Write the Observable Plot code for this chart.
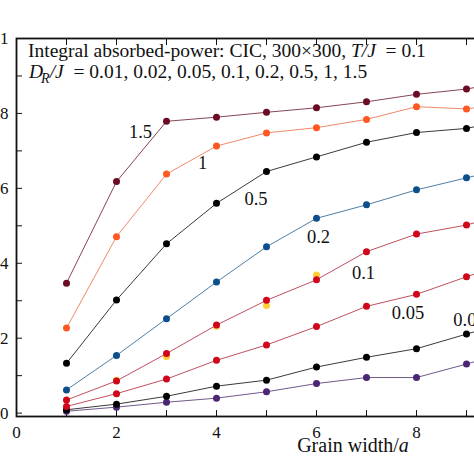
<!DOCTYPE html>
<html>
<head>
<meta charset="utf-8">
<script src="https://cdn.jsdelivr.net/npm/d3@7"></script>
<script src="https://cdn.jsdelivr.net/npm/@observablehq/plot@0.6"></script>
<style>
  body { margin: 0; overflow: hidden; background: #fff; }
  #chart { margin-left: -44px; width: 580px; }
</style>
</head>
<body>
<div id="chart"></div>
<script>
// grain widths (x) and the D_R/J values of each curve
const grainWidth = [1, 2, 3, 4, 5, 6, 7, 8, 9, 10]
const drValues = ['0.01', '0.02', '0.05', '0.1', '0.2', '0.5', '1', '1.5']

// integral absorbed power, one list per D_R/J
const p001 = [0.005, 0.016, 0.029, 0.040, 0.057, 0.079, 0.095, 0.095, 0.131, 0.17]
const p002 = [0.009, 0.024, 0.045, 0.072, 0.088, 0.123, 0.149, 0.172, 0.211, 0.25]
const p005 = [0.018, 0.052, 0.091, 0.141, 0.182, 0.231, 0.285, 0.317, 0.364, 0.408]
const p01 = [0.035, 0.086, 0.159, 0.235, 0.301, 0.356, 0.431, 0.478, 0.502, 0.54]
const p02 = [0.062, 0.154, 0.252, 0.350, 0.444, 0.520, 0.556, 0.596, 0.628, 0.66]
const p05 = [0.133, 0.302, 0.452, 0.560, 0.645, 0.684, 0.723, 0.749, 0.760, 0.787]
const p1 = [0.227, 0.471, 0.638, 0.713, 0.748, 0.762, 0.784, 0.818, 0.812, 0.83]
const p15 = [0.347, 0.618, 0.779, 0.790, 0.803, 0.815, 0.831, 0.851, 0.865, 0.89]
const curves = [p001, p002, p005, p01, p02, p05, p1, p15]

// extra yellow points peeking out behind the 0.1 curve
const yellowX = [2, 3, 4, 5, 6]
const yellowY = [0.088, 0.151, 0.232, 0.287, 0.369]

const lineColors = ['#6f5a8c', '#3a3a3a', '#c0505e', '#c0505e', '#4f7fa6', '#3a3a3a', '#ee8a68', '#864656']
const dotColors = ['#4a2673', '#000000', '#d0061b', '#d0061b', '#0d4f8c', '#000000', '#ff5722', '#6b0b24']

// curve labels
const labelText = ['1.5', '1', '0.5', '0.2', '0.1', '0.05', '0.02']
const labelX = [2.48, 3.72, 4.79, 6.04, 6.94, 7.83, 9.06]
const labelY = [0.735, 0.652, 0.556, 0.455, 0.359, 0.25, 0.2325]

const xMinor = d3.range(0, 11, 1)
const xMajor = [0, 2, 4, 6, 8, 10]
const yMinor = [0, 0.1, 0.2, 0.3, 0.4, 0.5, 0.6, 0.7, 0.8, 0.9, 1]
const yMajor = [0, 0.2, 0.4, 0.6, 0.8, 1]

let marks = []
curves.forEach((c, i) => {
  let pts = c.map((v, j) => ({x: grainWidth[j], y: v}))
  marks.push(Plot.line(pts, {x: 'x', y: 'y', stroke: lineColors[i], strokeWidth: 1}))
})
let yellow = yellowX.map((x, j) => ({x: x, y: yellowY[j]}))
marks.push(Plot.dot(yellow, {x: 'x', y: 'y', r: 3.5, fill: '#ffcc33'}))
curves.forEach((c, i) => {
  let pts = c.map((v, j) => ({x: grainWidth[j], y: v}))
  marks.push(Plot.dot(pts, {x: 'x', y: 'y', r: 3.5, fill: dotColors[i]}))
})
let labels = labelText.map((t, i) => ({t: t, x: labelX[i], y: labelY[i]}))
marks.push(Plot.text(labels, {
  x: 'x', y: 'y', text: 't',
  fontSize: 18.5, lineAnchor: 'bottom', fill: '#111',
}))

let chart = Plot.plot({
  width: 580,
  height: 474,
  marginLeft: 60,
  marginRight: 20,
  marginTop: 38,
  marginBottom: 58,
  style: {fontFamily: 'Liberation Serif', fontSize: '17px', color: '#111', maxWidth: 'none'},
  x: {domain: [0, 10]},
  y: {domain: [-0.009, 1]},
  marks: [
    Plot.axisX({ticks: xMinor, tickSize: -6, tickFormat: () => '', label: null}),
    Plot.axisX({anchor: 'top', ticks: xMinor, tickSize: -6, tickFormat: () => '', label: null}),
    Plot.axisX({ticks: xMajor, tickSize: 0, tickPadding: 9, label: null}),
    Plot.axisY({ticks: yMinor, tickSize: -6, tickFormat: () => '', label: null}),
    Plot.axisY({ticks: yMajor, tickSize: 0, tickPadding: 8, tickFormat: d => String(d), label: null}),
    ...marks,
    Plot.frame({stroke: '#111', strokeWidth: 1.8}),
  ],
})

// title lines and axis label with italics, placed through the scales
const sx = chart.scale('x'), sy = chart.scale('y')
const svg = d3.select(chart)
const serif = 'Liberation Serif'

let t1 = svg.append('text')
  .attr('x', sx.apply(0.24)).attr('y', sy.apply(0.949))
  .attr('text-anchor', 'start')
  .attr('font-family', serif).attr('font-size', 19.5).attr('fill', '#111')
t1.append('tspan').text('Integral absorbed-power: CIC, 300×300, ')
t1.append('tspan').attr('font-style', 'italic').text('T/J')
t1.append('tspan').text('  = 0.1')

let t2 = svg.append('text')
  .attr('x', sx.apply(0.26)).attr('y', sy.apply(0.893))
  .attr('text-anchor', 'start')
  .attr('font-family', serif).attr('font-size', 19.5).attr('fill', '#111')
t2.append('tspan').attr('font-style', 'italic').text('D')
t2.append('tspan').attr('font-style', 'italic').attr('font-size', 14).attr('dx', -2).attr('dy', 5).text('R')
t2.append('tspan').attr('font-style', 'italic').attr('dy', -5).text('/J')
t2.append('tspan').text('  = 0.01, 0.02, 0.05, 0.1, 0.2, 0.5, 1, 1.5')

let xl = svg.append('text')
  .attr('x', sx.apply(6.74)).attr('y', sy.apply(-0.105))
  .attr('text-anchor', 'middle')
  .attr('font-family', serif).attr('font-size', 20).attr('fill', '#111')
xl.append('tspan').text('Grain width/')
xl.append('tspan').attr('font-style', 'italic').text('a')

d3.select('#chart').append(() => chart)
</script>
</body>
</html>
